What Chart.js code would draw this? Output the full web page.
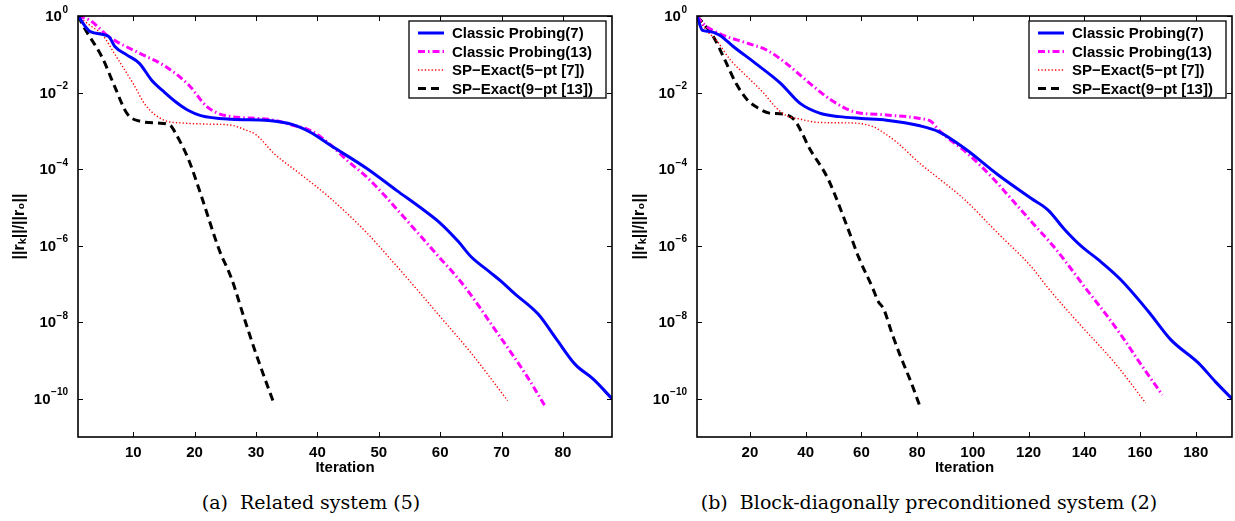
<!DOCTYPE html>
<html>
<head>
<meta charset="utf-8">
<script src="https://cdn.jsdelivr.net/npm/chart.js@4.4.1/dist/chart.umd.min.js"></script>
<style>
    body { margin: 0; background: #fff; }
    #page { position: relative; width: 1235px; height: 521px; }
    canvas { position: absolute; top: 0; }
    .caption { position: absolute; top: 491px; font-family: "DejaVu Serif", serif; font-size: 19px; color: #000; transform: translateX(-50%); white-space: nowrap; }
</style>
</head>
<body>
<div id="page">
    <canvas id="chartA" width="620" height="480" style="left:0"></canvas>
    <canvas id="chartB" width="615" height="480" style="left:620px"></canvas>
    <div class="caption" style="left:311px">(a)&nbsp; Related system (5)</div>
    <div class="caption" style="left:929px">(b)&nbsp; Block-diagonally preconditioned system (2)</div>
</div>
<script>
const seriesLabels = ["Classic Probing(7)", "Classic Probing(13)", "SP\u2212Exact(5\u2212pt [7])", "SP\u2212Exact(9\u2212pt [13])"];

const xTicksA = [10, 20, 30, 40, 50, 60, 70, 80];
const xTicksB = [20, 40, 60, 80, 100, 120, 140, 160, 180];
const yTicks = [1, 1e-2, 1e-4, 1e-6, 1e-8, 1e-10];

// (a) related system
const iterA_cp7 = [1, 3, 6, 7, 9, 11, 13, 15, 17, 19, 21, 26, 32, 36, 39, 42, 48, 53, 57, 60, 63, 65, 68, 70, 72, 76, 79, 82, 85, 88];
const resA_cp7 = [1, 0.39, 0.29, 0.16, 0.095, 0.058, 0.021, 0.0105, 5.6e-3, 3.4e-3, 2.5e-3, 2.0e-3, 1.85e-3, 1.45e-3, 8.9e-4, 4.3e-4, 1.05e-4, 2.7e-5, 9.3e-6, 3.9e-6, 1.26e-6, 5.2e-7, 2.1e-7, 1.15e-7, 5.8e-8, 1.6e-8, 3.5e-9, 7.9e-10, 3.2e-10, 1e-10];

const iterA_cp13 = [1, 3, 6, 11, 15, 19, 22, 25, 32, 36, 39, 42, 45, 48, 51, 55, 59, 64, 69, 74, 77];
const resA_cp13 = [1, 0.76, 0.29, 0.107, 0.051, 0.016, 4.3e-3, 2.5e-3, 2.0e-3, 1.4e-3, 1.0e-3, 4.5e-4, 1.6e-4, 6.3e-5, 2.0e-5, 3.8e-6, 7.1e-7, 8.5e-8, 6.2e-9, 4.2e-10, 6.8e-11];

const iterA_sp5 = [1, 3, 5, 7, 10, 12, 15, 18, 22, 26, 28, 30, 33, 37, 42, 48, 52, 56, 60, 65, 71];
const resA_sp5 = [1, 0.56, 0.32, 0.1, 0.017, 4.7e-3, 1.9e-3, 1.6e-3, 1.5e-3, 1.4e-3, 1.1e-3, 7.9e-4, 2.5e-4, 7.9e-5, 1.8e-5, 2.2e-6, 4.3e-7, 7.9e-8, 1.4e-8, 1.6e-9, 8.9e-11];

const iterA_sp9 = [1, 2, 5, 7, 9, 11, 14, 16, 17, 19, 21, 24, 26, 28, 30, 33];
const resA_sp9 = [1, 0.5, 0.079, 0.014, 2.8e-3, 1.8e-3, 1.6e-3, 1.4e-3, 8e-4, 1.8e-4, 2.2e-5, 7.8e-7, 1.4e-7, 1.4e-8, 1.5e-9, 6.9e-11];

// (b) block-diagonally preconditioned system
const iterB_cp7 = [1, 3, 5, 9, 14, 22, 31, 38, 45, 52, 60, 69, 81, 88, 97, 109, 121, 127, 133, 139, 145, 153, 163, 171, 181, 187, 193];
const resB_cp7 = [1, 0.42, 0.4, 0.32, 0.16, 0.058, 0.0174, 5.2e-3, 2.9e-3, 2.35e-3, 2.1e-3, 1.9e-3, 1.35e-3, 9.3e-4, 3.5e-4, 7.1e-5, 1.7e-5, 8.5e-6, 2.6e-6, 9.5e-7, 4.3e-7, 1.3e-7, 1.9e-8, 3.5e-9, 8.5e-10, 2.8e-10, 1e-10];

const iterB_cp13 = [1, 3, 9, 19, 26, 33, 43, 49, 57, 69, 81, 85, 88, 98, 106, 114, 122, 129, 136, 140, 147, 154, 160, 168];
const resB_cp13 = [1, 0.65, 0.35, 0.195, 0.129, 0.058, 0.014, 6.5e-3, 3.2e-3, 2.6e-3, 2.1e-3, 1.75e-3, 1.0e-3, 2.6e-4, 7.1e-5, 1.6e-5, 3.5e-6, 9.5e-7, 2.1e-7, 8.5e-8, 1.9e-8, 3.8e-9, 8.5e-10, 1.26e-10];

const iterB_sp5 = [1, 4, 8, 13, 19, 25, 29, 33, 37, 45, 57, 64, 68, 73, 81, 87, 97, 109, 121, 127, 139, 151, 162];
const resB_sp5 = [1, 0.45, 0.23, 0.071, 0.026, 9.5e-3, 4.3e-3, 2.5e-3, 2.1e-3, 1.65e-3, 1.6e-3, 1.3e-3, 8.9e-4, 4.8e-4, 1.4e-4, 6.3e-5, 1.6e-5, 2.1e-6, 2.8e-7, 7.8e-8, 7.8e-9, 8.5e-10, 7.8e-11];

const iterB_sp9 = [1, 4, 7, 11, 15, 19, 23, 27, 32, 36, 39, 41, 48, 55, 59, 64, 66, 68, 71, 74, 78, 81];
const resB_sp9 = [1, 0.56, 0.28, 0.071, 0.0174, 6.5e-3, 3.9e-3, 2.9e-3, 2.75e-3, 1.9e-3, 7.9e-4, 3.9e-4, 5.6e-5, 3.0e-6, 5e-7, 7.9e-8, 3.5e-8, 2.2e-8, 5e-9, 1.3e-9, 2.5e-10, 6.3e-11];

const styles = [
    { borderColor: "#0000ff", borderWidth: 3, borderDash: [] },
    { borderColor: "#ff00ff", borderWidth: 3, borderDash: [7, 3, 1.5, 3] },
    { borderColor: "#ff0000", borderWidth: 1.4, borderDash: [1.3, 2.1] },
    { borderColor: "#000000", borderWidth: 3, borderDash: [8, 5] }
];

const fontFamily = "'Liberation Sans', Arial, sans-serif";
const sansBold = { family: fontFamily, weight: "bold", size: 15 };

function zip(xs, ys) {
    return xs.map((x, i) => ({ x: x, y: ys[i] }));
}

// box, inward ticks, 10^n labels and legend, drawn on top of the lines
const frame = {
    id: "frame",
    afterDraw(chart) {
        const ctx = chart.ctx;
        const a = chart.chartArea;
        const xs = chart.scales.x;
        const ys = chart.scales.y;
        ctx.save();
        ctx.strokeStyle = "#000";
        ctx.lineWidth = 1;
        ctx.beginPath();
        xs.ticks.forEach(t => {
            const px = Math.round(xs.getPixelForValue(t.value)) + 0.5;
            ctx.moveTo(px, a.bottom); ctx.lineTo(px, a.bottom - 5);
            ctx.moveTo(px, a.top); ctx.lineTo(px, a.top + 5);
        });
        ys.ticks.forEach(t => {
            const py = Math.round(ys.getPixelForValue(t.value)) + 0.5;
            ctx.moveTo(a.left, py); ctx.lineTo(a.left + 5, py);
            ctx.moveTo(a.right, py); ctx.lineTo(a.right - 5, py);
        });
        ctx.stroke();
        ctx.lineWidth = 1.6;
        ctx.strokeRect(a.left, a.top, a.right - a.left, a.bottom - a.top);

        // y tick labels with a raised exponent
        ctx.fillStyle = "#000";
        ctx.textBaseline = "middle";
        ys.ticks.forEach(t => {
            const py = ys.getPixelForValue(t.value);
            const exp = String(Math.round(Math.log10(t.value))).replace("-", "\u2212");
            ctx.font = "bold 10px " + fontFamily;
            const ew = ctx.measureText(exp).width;
            ctx.textAlign = "left";
            const ex = a.left - 10 - ew;
            ctx.fillText(exp, ex, py - 6);
            ctx.font = "bold 15px " + fontFamily;
            ctx.textAlign = "right";
            ctx.fillText("10", ex - 0.5, py + 1);
        });

        // legend
        const bx = a.right - 203, by = a.top + 5, bw = 197, bh = 77;
        ctx.fillStyle = "#fff";
        ctx.fillRect(bx, by, bw, bh);
        ctx.lineWidth = 1.3;
        ctx.strokeRect(bx, by, bw, bh);
        ctx.font = "bold 15px " + fontFamily;
        ctx.textAlign = "left";
        chart.data.datasets.forEach((ds, i) => {
            const ry = by + 12 + i * 18.5;
            ctx.strokeStyle = ds.borderColor;
            ctx.lineWidth = ds.borderWidth;
            ctx.setLineDash(ds.borderDash);
            ctx.beginPath();
            ctx.moveTo(bx + 9, ry);
            ctx.lineTo(bx + 35, ry);
            ctx.stroke();
            ctx.setLineDash([]);
            ctx.fillStyle = "#000";
            ctx.fillText(ds.label, bx + 43, ry + 1);
        });
        ctx.restore();
    }
};

function makeChart(id, series, xMax, xTicks, yWidth, padRight) {
    return new Chart(document.getElementById(id), {
        type: "line",
        data: {
            datasets: series.map((s, i) => Object.assign({
                label: seriesLabels[i],
                data: s,
                fill: false,
                pointRadius: 0,
                cubicInterpolationMode: "monotone"
            }, styles[i]))
        },
        options: {
            responsive: false,
            animation: false,
            layout: { padding: { left: 0, right: padRight, top: 16, bottom: 0 } },
            plugins: {
                legend: { display: false },
                tooltip: { enabled: false }
            },
            scales: {
                x: {
                    type: "linear",
                    min: 1,
                    max: xMax,
                    afterBuildTicks: s => { s.ticks = xTicks.map(v => ({ value: v })); },
                    afterFit: s => { s.height = 43; },
                    grid: { display: false, drawTicks: false },
                    border: { display: false },
                    ticks: { color: "#000", font: sansBold, padding: 7, maxRotation: 0 },
                    title: { display: true, text: "Iteration", color: "#000", font: sansBold, padding: { top: 0, bottom: 3 } }
                },
                y: {
                    type: "logarithmic",
                    min: 1e-11,
                    max: 1,
                    afterBuildTicks: s => { s.ticks = yTicks.map(v => ({ value: v })); },
                    afterFit: s => { s.width = yWidth; },
                    grid: { display: false, drawTicks: false },
                    border: { display: false },
                    ticks: { display: false },
                    title: { display: true, text: "||r\u2096||/||r\u2080||", color: "#000", font: { family: fontFamily, weight: "bold", size: 16 }, padding: { top: 10, bottom: 0 } }
                }
            }
        },
        plugins: [frame]
    });
}

makeChart("chartA", [
    zip(iterA_cp7, resA_cp7),
    zip(iterA_cp13, resA_cp13),
    zip(iterA_sp5, resA_sp5),
    zip(iterA_sp9, resA_sp9)
], 88, xTicksA, 78, 8);

makeChart("chartB", [
    zip(iterB_cp7, resB_cp7),
    zip(iterB_cp13, resB_cp13),
    zip(iterB_sp5, resB_sp5),
    zip(iterB_sp9, resB_sp9)
], 193, xTicksB, 77, 3);
</script>
</body>
</html>
